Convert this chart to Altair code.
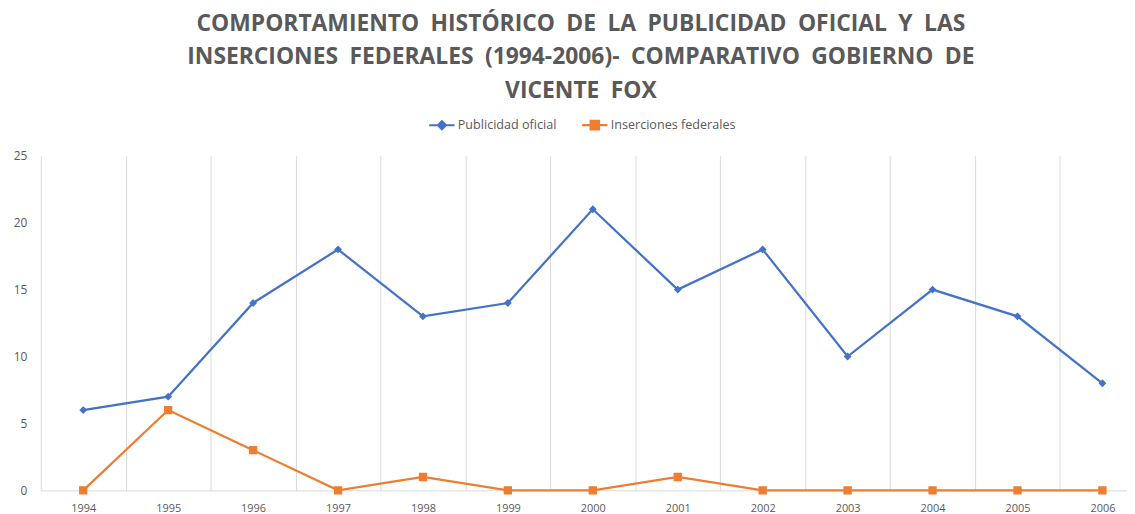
import altair as alt
import pandas as pd

years = [str(y) for y in range(1994, 2007)]
publicidad = [6, 7, 14, 18, 13, 14, 21, 15, 18, 10, 15, 13, 8]
inserciones = [0, 6, 3, 0, 1, 0, 0, 1, 0, 0, 0, 0, 0]
series = ["Publicidad oficial", "Inserciones federales"]
colors = ["#4472C4", "#ED7D31"]
# marker shapes with a legend line segment (the segment has no area, so it
# only shows where the symbol is stroked, i.e. in the legend)
shapes = [
    "M-2.2,0H2.2M-0.68,0L0,-0.68L0.68,0L0,0.68Z",
    "M-2.2,0H2.2M-0.72,-0.72H0.72V0.72H-0.72Z",
]

rows = []
for y, v in zip(years, publicidad):
    rows.append({"year": y, "value": v, "serie": series[0]})
for y, v in zip(years, inserciones):
    rows.append({"year": y, "value": v, "serie": series[1]})
df = pd.DataFrame(rows)

title_lines = [
    "COMPORTAMIENTO HISTÓRICO DE LA PUBLICIDAD OFICIAL Y LAS",
    "INSERCIONES FEDERALES (1994-2006)- COMPARATIVO GOBIERNO DE",
    "VICENTE FOX",
]
title_lines = [t.replace(" ", "\u2002") for t in title_lines]

color_scale = alt.Scale(domain=series, range=colors)
shape_scale = alt.Scale(domain=series, range=shapes)

legend = alt.Legend(title=None, orient="none", direction="horizontal",
                    legendX=397, legendY=-38,
                    labelFont="Open Sans", labelFontSize=12.7,
                    labelColor="#595959",
                    symbolStrokeWidth=2.25, symbolSize=135,
                    labelOffset=9, columnPadding=20)

x_enc = alt.X("year:O", title=None,
              axis=alt.Axis(labelAngle=0, labelColor="#595959", labelFontSize=11,
                            labelFont="Open Sans", ticks=False, grid=True,
                            gridColor="#d9d9d9", domainColor="#d9d9d9",
                            tickBand="extent", labelPadding=12))
y_enc = alt.Y("value:Q", title=None,
              scale=alt.Scale(domain=[0, 25]),
              axis=alt.Axis(values=[0, 5, 10, 15, 20, 25], grid=False, ticks=False,
                            domain=False, labelColor="#595959", labelFontSize=12,
                            labelFont="Open Sans", labelPadding=14))

base = alt.Chart(df).encode(x=x_enc, y=y_enc)

lines = base.mark_line(strokeWidth=2.25).encode(
    color=alt.Color("serie:N", scale=color_scale, sort=series, legend=legend),
)
points = base.mark_point(filled=True, size=135, opacity=1).encode(
    color=alt.Color("serie:N", scale=color_scale, sort=series, legend=legend),
    shape=alt.Shape("serie:N", scale=shape_scale, sort=series, legend=legend),
)

chart = alt.layer(lines, points).properties(
    width=1112,
    height=337,
    autosize=alt.AutoSizeParams(type="none"),
    padding={"left": 33, "top": 147, "right": -18, "bottom": 22},
    title=alt.Title(title_lines, font="Open Sans", fontSize=23, fontWeight="bold",
                    color="#595959", lineHeight=34, anchor="middle", offset=15,
                    dx=-12),
).configure_view(stroke=None)

chart.save("out.html", embed_options={"renderer": "svg", "actions": False})
